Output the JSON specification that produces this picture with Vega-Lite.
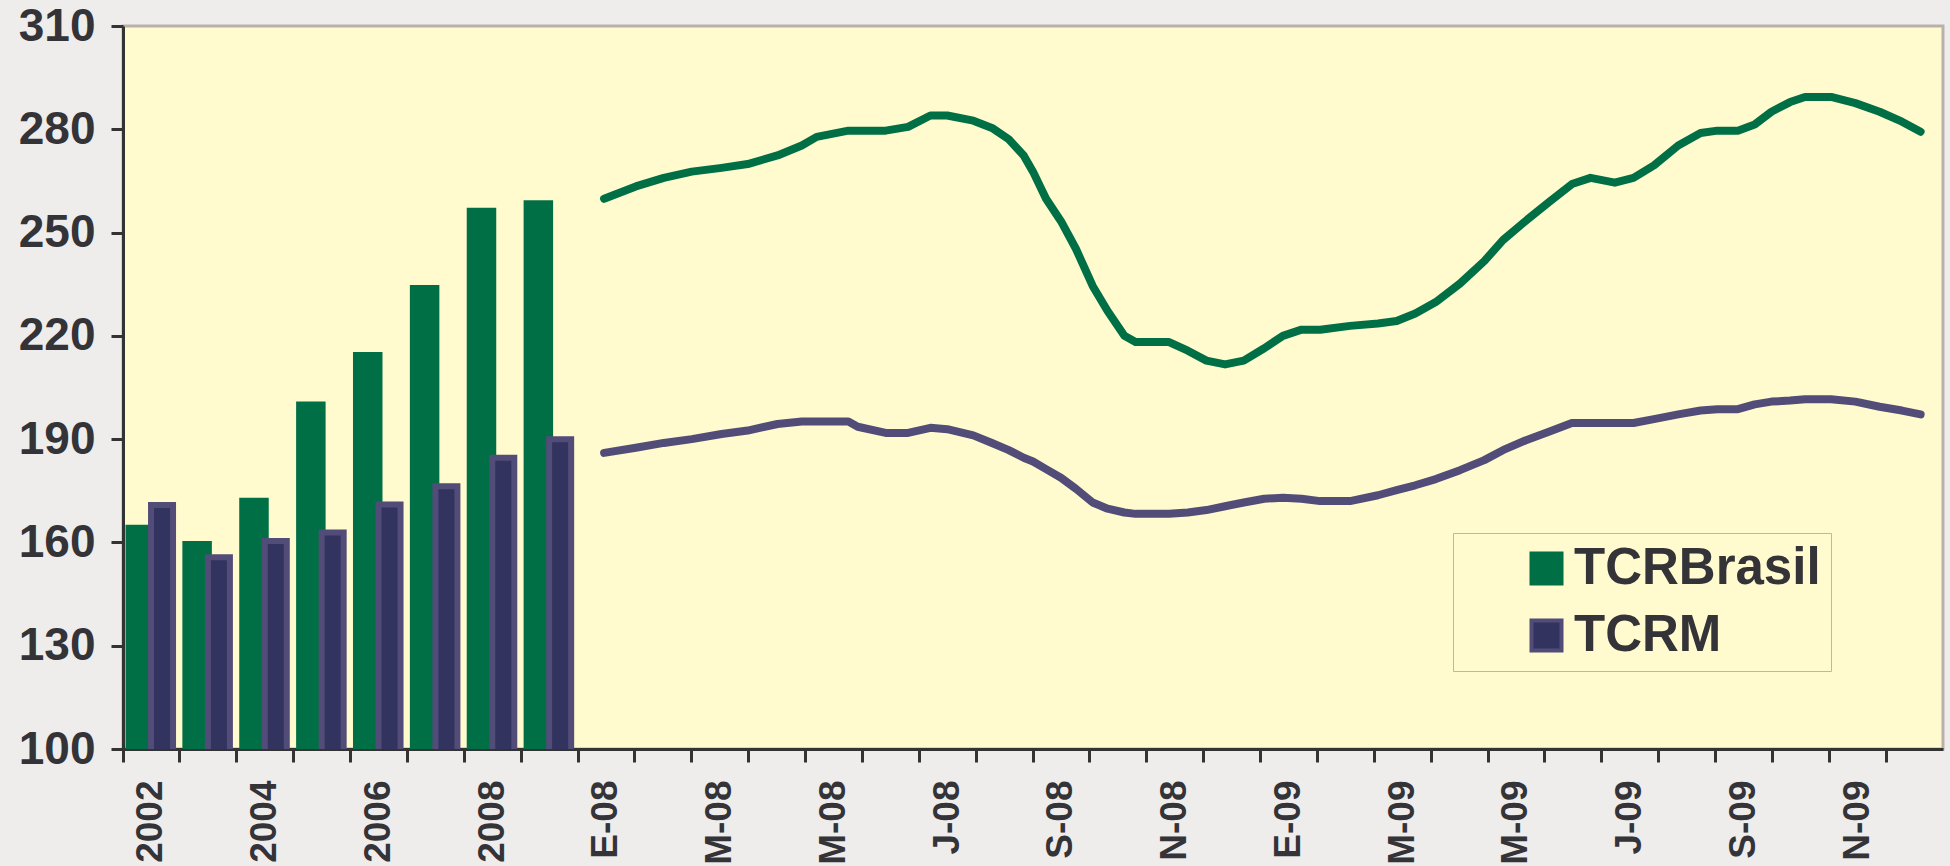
{
  "$schema": "https://vega.github.io/schema/vega-lite/v6.json",
  "width": 1820,
  "height": 723,
  "autosize": {"type": "none"},
  "padding": {"left": 123, "top": 26, "right": 7, "bottom": 117},
  "background": "#EEEDEC",
  "config": {
    "view": {"fill": "#FFFBCF", "stroke": "#B9B0AE", "strokeWidth": 3},
    "font": "Liberation Sans"
  },
  "datasets": {
    "anual": [
      {"anio": "2002", "TCRBrasil": 165.1, "TCRM": 170.9},
      {"anio": "2003", "TCRBrasil": 160.4, "TCRM": 155.7},
      {"anio": "2004", "TCRBrasil": 173.0, "TCRM": 160.4},
      {"anio": "2005", "TCRBrasil": 200.9, "TCRM": 162.9},
      {"anio": "2006", "TCRBrasil": 215.3, "TCRM": 171.0},
      {"anio": "2007", "TCRBrasil": 234.8, "TCRM": 176.3},
      {"anio": "2008", "TCRBrasil": 257.2, "TCRM": 184.6},
      {"anio": "2009", "TCRBrasil": 259.4, "TCRM": 190.0}
    ],
    "mensual": [
      {"fecha": "2008-01-14", "TCRBrasil": 259.8, "TCRM": 186.0},
      {"fecha": "2008-01-31", "TCRBrasil": 263.4, "TCRM": 187.5},
      {"fecha": "2008-02-15", "TCRBrasil": 265.9, "TCRM": 188.9},
      {"fecha": "2008-03-01", "TCRBrasil": 267.7, "TCRM": 190.0},
      {"fecha": "2008-03-17", "TCRBrasil": 268.8, "TCRM": 191.5},
      {"fecha": "2008-03-31", "TCRBrasil": 269.9, "TCRM": 192.5},
      {"fecha": "2008-04-16", "TCRBrasil": 272.4, "TCRM": 194.4},
      {"fecha": "2008-04-29", "TCRBrasil": 275.3, "TCRM": 195.1},
      {"fecha": "2008-05-07", "TCRBrasil": 277.8, "TCRM": 195.1},
      {"fecha": "2008-05-24", "TCRBrasil": 279.6, "TCRM": 195.1},
      {"fecha": "2008-05-29", "TCRBrasil": 279.6, "TCRM": 193.6},
      {"fecha": "2008-06-13", "TCRBrasil": 279.6, "TCRM": 191.8},
      {"fecha": "2008-06-25", "TCRBrasil": 280.7, "TCRM": 191.8},
      {"fecha": "2008-07-07", "TCRBrasil": 284.0, "TCRM": 193.3},
      {"fecha": "2008-07-16", "TCRBrasil": 284.0, "TCRM": 192.9},
      {"fecha": "2008-07-30", "TCRBrasil": 282.5, "TCRM": 191.1},
      {"fecha": "2008-08-09", "TCRBrasil": 280.4, "TCRM": 188.9},
      {"fecha": "2008-08-18", "TCRBrasil": 277.1, "TCRM": 186.8},
      {"fecha": "2008-08-26", "TCRBrasil": 272.4, "TCRM": 184.6},
      {"fecha": "2008-08-31", "TCRBrasil": 267.7, "TCRM": 183.5},
      {"fecha": "2008-09-07", "TCRBrasil": 259.8, "TCRM": 181.3},
      {"fecha": "2008-09-15", "TCRBrasil": 253.3, "TCRM": 178.8},
      {"fecha": "2008-09-23", "TCRBrasil": 245.3, "TCRM": 175.6},
      {"fecha": "2008-10-02", "TCRBrasil": 234.5, "TCRM": 171.6},
      {"fecha": "2008-10-10", "TCRBrasil": 227.2, "TCRM": 169.8},
      {"fecha": "2008-10-19", "TCRBrasil": 220.0, "TCRM": 168.7},
      {"fecha": "2008-10-25", "TCRBrasil": 218.2, "TCRM": 168.3},
      {"fecha": "2008-11-12", "TCRBrasil": 218.2, "TCRM": 168.3},
      {"fecha": "2008-11-22", "TCRBrasil": 215.7, "TCRM": 168.7},
      {"fecha": "2008-12-02", "TCRBrasil": 212.8, "TCRM": 169.4},
      {"fecha": "2008-12-12", "TCRBrasil": 211.7, "TCRM": 170.5},
      {"fecha": "2008-12-22", "TCRBrasil": 212.8, "TCRM": 171.6},
      {"fecha": "2009-01-02", "TCRBrasil": 216.4, "TCRM": 172.7},
      {"fecha": "2009-01-12", "TCRBrasil": 220.0, "TCRM": 173.0},
      {"fecha": "2009-01-22", "TCRBrasil": 221.8, "TCRM": 172.7},
      {"fecha": "2009-02-01", "TCRBrasil": 221.8, "TCRM": 172.0},
      {"fecha": "2009-02-17", "TCRBrasil": 222.9, "TCRM": 172.0},
      {"fecha": "2009-03-04", "TCRBrasil": 223.6, "TCRM": 173.7},
      {"fecha": "2009-03-14", "TCRBrasil": 224.3, "TCRM": 175.2},
      {"fecha": "2009-03-24", "TCRBrasil": 226.5, "TCRM": 176.6},
      {"fecha": "2009-04-04", "TCRBrasil": 229.8, "TCRM": 178.4},
      {"fecha": "2009-04-17", "TCRBrasil": 235.2, "TCRM": 181.0},
      {"fecha": "2009-04-30", "TCRBrasil": 241.7, "TCRM": 183.9},
      {"fecha": "2009-05-10", "TCRBrasil": 247.8, "TCRM": 186.8},
      {"fecha": "2009-05-22", "TCRBrasil": 253.3, "TCRM": 189.6},
      {"fecha": "2009-06-04", "TCRBrasil": 259.0, "TCRM": 192.2},
      {"fecha": "2009-06-16", "TCRBrasil": 264.1, "TCRM": 194.7},
      {"fecha": "2009-06-26", "TCRBrasil": 265.9, "TCRM": 194.7},
      {"fecha": "2009-07-09", "TCRBrasil": 264.5, "TCRM": 194.7},
      {"fecha": "2009-07-19", "TCRBrasil": 265.9, "TCRM": 194.7},
      {"fecha": "2009-07-30", "TCRBrasil": 269.5, "TCRM": 195.8},
      {"fecha": "2009-08-12", "TCRBrasil": 275.3, "TCRM": 197.2},
      {"fecha": "2009-08-24", "TCRBrasil": 278.9, "TCRM": 198.3},
      {"fecha": "2009-09-02", "TCRBrasil": 279.6, "TCRM": 198.7},
      {"fecha": "2009-09-13", "TCRBrasil": 279.6, "TCRM": 198.7},
      {"fecha": "2009-09-22", "TCRBrasil": 281.4, "TCRM": 200.1},
      {"fecha": "2009-10-01", "TCRBrasil": 285.1, "TCRM": 200.9},
      {"fecha": "2009-10-11", "TCRBrasil": 287.9, "TCRM": 201.2},
      {"fecha": "2009-10-19", "TCRBrasil": 289.4, "TCRM": 201.6},
      {"fecha": "2009-11-02", "TCRBrasil": 289.4, "TCRM": 201.6},
      {"fecha": "2009-11-15", "TCRBrasil": 287.6, "TCRM": 200.9},
      {"fecha": "2009-11-28", "TCRBrasil": 285.1, "TCRM": 199.4},
      {"fecha": "2009-12-10", "TCRBrasil": 282.2, "TCRM": 198.3},
      {"fecha": "2009-12-20", "TCRBrasil": 279.3, "TCRM": 197.2}
    ]
  },
  "layer": [
    {
      "data": {"name": "anual"},
      "transform": [{"fold": ["TCRBrasil", "TCRM"], "as": ["serie", "valor"]}],
      "encoding": {
        "x": {
          "field": "anio",
          "type": "nominal",
          "scale": {
            "domain": ["2002", "2003", "2004", "2005", "2006", "2007", "2008", "2009",
              "2008-01", "2008-02", "2008-03", "2008-04", "2008-05", "2008-06", "2008-07", "2008-08", "2008-09", "2008-10", "2008-11", "2008-12",
              "2009-01", "2009-02", "2009-03", "2009-04", "2009-05", "2009-06", "2009-07", "2009-08", "2009-09", "2009-10", "2009-11", "2009-12"],
            "paddingInner": 0,
            "paddingOuter": 0
          },
          "axis": {
            "title": null,
            "labelExpr": "length(datum.value) == 4 ? (toNumber(datum.value) % 2 == 0 ? datum.value : '') : (toNumber(slice(datum.value, 5)) % 2 == 1 ? substring('EFMAMJJASOND', toNumber(slice(datum.value, 5)) - 1, toNumber(slice(datum.value, 5))) + '-' + substring(datum.value, 2, 4) : '')",
            "bandPosition": 0,
            "labelAngle": 270,
            "labelAlign": "right",
            "labelBaseline": "middle",
            "labelFontSize": 37,
            "labelFontWeight": "bold",
            "labelColor": "#333338",
            "labelPadding": 18,
            "tickSize": 13,
            "tickWidth": 3,
            "tickColor": "#333333",
            "domainColor": "#333333",
            "domainWidth": 3,
            "labelOverlap": false,
            "grid": false
          }
        },
        "y": {
          "field": "valor",
          "type": "quantitative",
          "scale": {"domain": [100, 310], "zero": false, "nice": false},
          "axis": {
            "title": null,
            "values": [100, 130, 160, 190, 220, 250, 280, 310],
            "labelFontSize": 46,
            "labelFontWeight": "bold",
            "labelColor": "#333338",
            "labelPadding": 16,
            "tickSize": 12,
            "tickWidth": 3,
            "tickColor": "#333333",
            "domainColor": "#333333",
            "domainWidth": 3,
            "grid": false
          }
        },
        "color": {
          "field": "serie",
          "type": "nominal",
          "scale": {"domain": ["TCRBrasil", "TCRM"], "range": ["#006F45", "#33335F"]},
          "legend": {
            "orient": "none",
            "legendX": 1330,
            "legendY": 507,
            "title": null,
            "padding": 10,
            "symbolType": "square",
            "symbolSize": 900,
            "symbolOffset": 58,
            "symbolStrokeWidth": 4,
            "labelFontSize": 51,
            "labelFontWeight": "bold",
            "labelColor": "#333338",
            "labelOffset": 2,
            "labelLimit": 600,
            "labelExpr": "datum.label + '\u00a0\u00a0\u00a0\u00a0'",
            "rowPadding": 15,
            "fillColor": "#FFFBCF",
            "strokeColor": "#BDB5B3",
            "encode": {
              "symbols": {"update": {"stroke": {"signal": "datum.value == 'TCRM' ? '#524C78' : '#006F45'"}}}
            }
          }
        }
      },
      "layer": [
        {
          "transform": [{"filter": "datum.serie == 'TCRBrasil'"}],
          "mark": {"type": "bar", "width": 29.5, "xOffset": -11.2, "clip": true}
        },
        {
          "transform": [{"filter": "datum.serie == 'TCRM'"}],
          "mark": {"type": "bar", "width": 22, "xOffset": 10.6, "stroke": "#524C78", "strokeWidth": 6, "clip": true}
        }
      ]
    },
    {
      "data": {"name": "mensual"},
      "transform": [{"fold": ["TCRBrasil", "TCRM"], "as": ["serie", "valor"]}],
      "mark": {"type": "line", "strokeWidth": 8, "strokeJoin": "round", "strokeCap": "round"},
      "encoding": {
        "x": {
          "field": "fecha",
          "type": "temporal",
          "scale": {"domain": [{"year": 2007, "month": 5, "date": 1}, {"year": 2010, "month": 1, "date": 1}]},
          "axis": null
        },
        "y": {"field": "valor", "type": "quantitative"},
        "stroke": {
          "field": "serie",
          "type": "nominal",
          "scale": {"domain": ["TCRBrasil", "TCRM"], "range": ["#006F45", "#524C78"]},
          "legend": null
        }
      }
    }
  ],
  "resolve": {"scale": {"x": "independent"}}
}
